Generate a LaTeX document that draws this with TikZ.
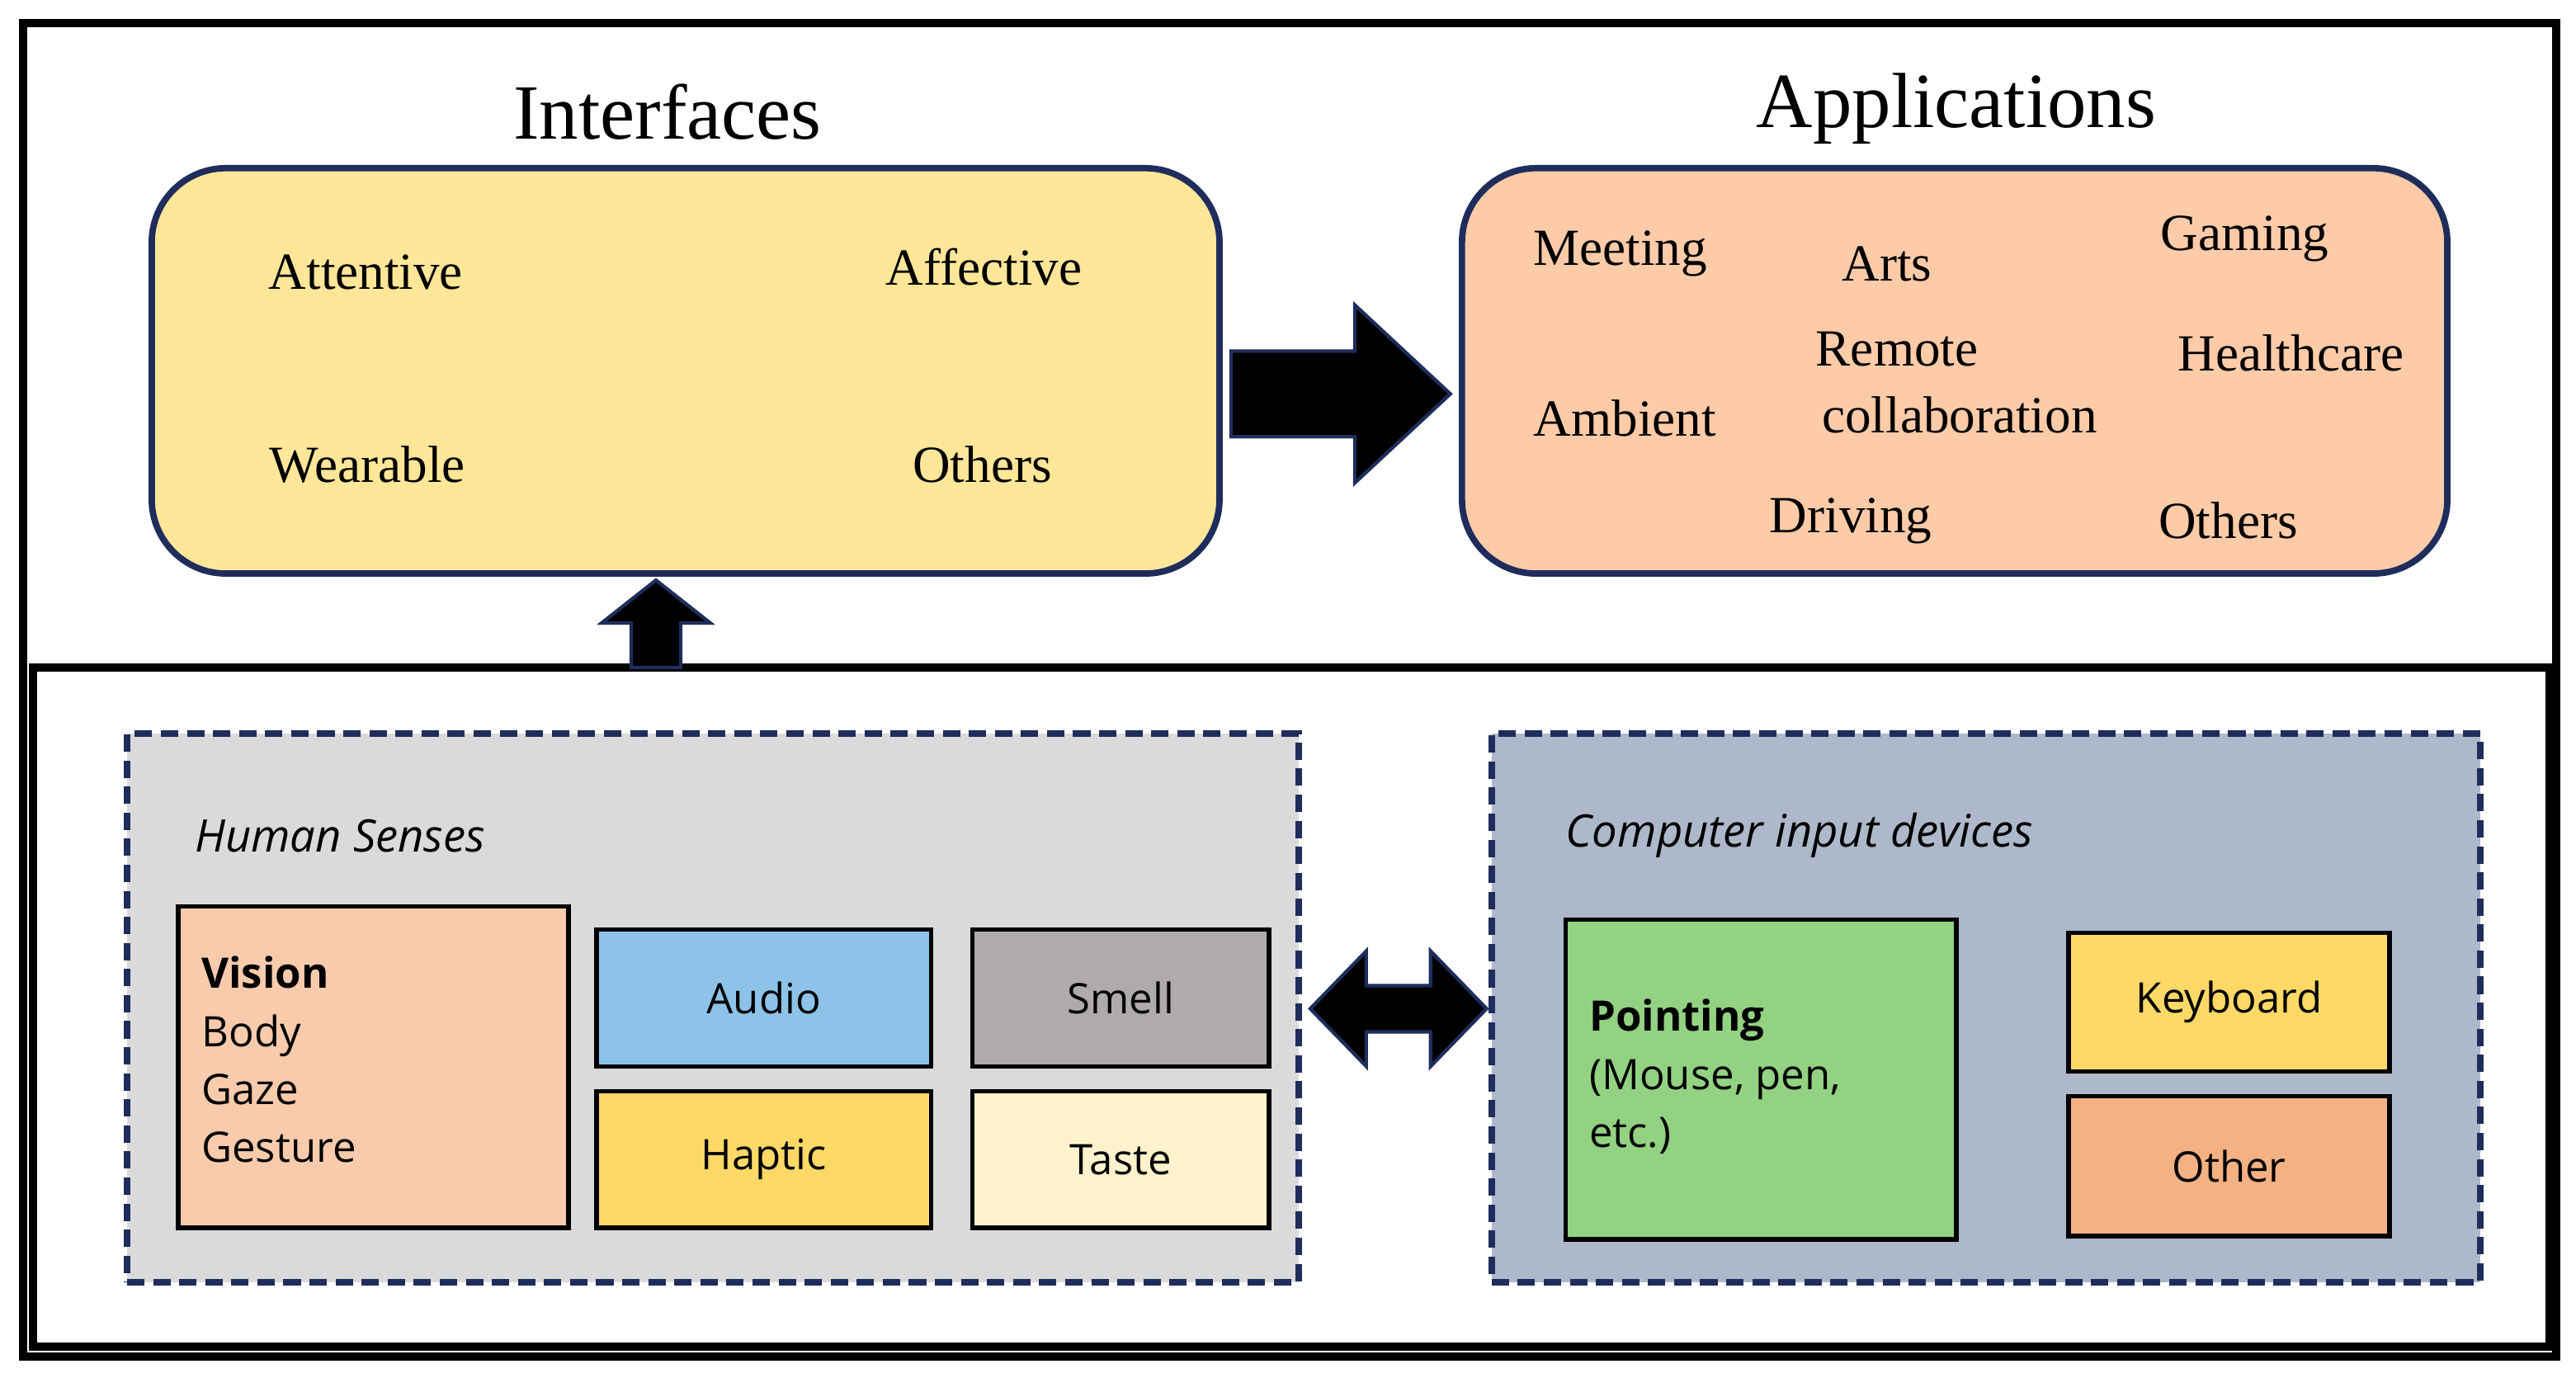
\documentclass[tikz,border=0pt]{standalone}
\usepackage{fontspec}
\setmainfont{Liberation Serif}
\newfontfamily\osans{Open Sans}
\definecolor{navy}{HTML}{1F2D5C}
\definecolor{yel}{HTML}{FFE699}
\definecolor{ora}{HTML}{FDCBA8}
\definecolor{hsg}{HTML}{DADADA}
\definecolor{cig}{HTML}{ADB9CA}
\definecolor{vis}{HTML}{F8CBAD}
\definecolor{aud}{HTML}{8DC3E8}
\definecolor{sme}{HTML}{AFABAB}
\definecolor{hap}{HTML}{FFD966}
\definecolor{tas}{HTML}{FFF2CC}
\definecolor{poi}{HTML}{92D282}
\definecolor{oth}{HTML}{F4B183}
\begin{document}
\begin{tikzpicture}[x=0.02cm,y=-0.02cm,
  title/.style={font=\fontsize{27}{30}\selectfont},
  item/.style={font=\fontsize{18}{21}\selectfont},
  sitem/.style={font=\osans\fontsize{14.5}{20}\selectfont},
  big/.style={draw=navy,line width=2.2pt,rounded corners=0.9cm},
  group/.style={draw=navy,line width=2.2pt,dashed,dash pattern=on 6pt off 3pt},
  box/.style={draw=black,line width=1.6pt,sitem},
  arr/.style={fill=black,draw=navy,line width=1.2pt,line join=miter}]
\useasboundingbox (0,0) rectangle (1563,836);
\fill[white] (0,0) rectangle (1563,836);
\draw[line width=2.8pt] (14,14) rectangle (1551,823);
\draw[line width=2.8pt] (20,405) rectangle (1547,817);
% top
\node[title] (tI) at (405,68) {Interfaces};
\node[title] (tA) at (1187,66) {Applications};
\node[big,fill=yel,minimum width=12.96cm,minimum height=4.92cm] (I) at (416,225) {};
\node[big,fill=ora,minimum width=11.96cm,minimum height=4.92cm] (A) at (1186,225) {};
\node[item] (i1) at (222,165) {Attentive};
\node[item] (i2) at (597,162) {Affective};
\node[item] (i3) at (223,282) {Wearable};
\node[item] (i4) at (596,282) {Others};
\node[item] (a1) at (983,154) {Meeting};
\node[item] (a2) at (1145,160) {Arts};
\node[item] (a3) at (1362,145) {Gaming};
\node[item] (a4) at (1151,212) {Remote};
\node[item] (a5) at (1189,252) {collaboration};
\node[item] (a6) at (1390,214) {Healthcare};
\node[item] (a7) at (986,254) {Ambient};
\node[item] (a8) at (1123,316) {Driving};
\node[item] (a9) at (1352,316) {Others};
% big right arrow
\draw[arr] (747,213) -- (822,213) -- (822,185) -- (880,239) -- (822,293) -- (822,265) -- (747,265) -- cycle;
% up arrow
\draw[arr] (383,405) -- (383,378) -- (365,378) -- (398,352) -- (431,378) -- (413,378) -- (413,405) -- cycle;
% bottom groups
\node[group,fill=hsg,minimum width=14.22cm,minimum height=6.66cm] (HS) at (432.5,611.5) {};
\node[group,fill=cig,minimum width=12.0cm,minimum height=6.66cm] (CI) at (1205,611.5) {};
\node[sitem,font=\osans\itshape\fontsize{15.5}{20}\selectfont,anchor=west] (hst) at (112,507) {Human Senses};
\node[sitem,font=\osans\itshape\fontsize{15.5}{20}\selectfont,anchor=west] (cit) at (944,507) {Computer input devices};
\node[box,fill=vis,minimum width=4.74cm,minimum height=3.9cm] (V) at (226.5,647.5) {};
\node[sitem,anchor=north west,align=left,inner sep=0pt] (vt) at (122,580) {\textbf{Vision}\\Body\\Gaze\\Gesture};
\node[box,fill=aud,minimum width=4.06cm,minimum height=1.66cm] (au) at (463.5,605.5) {Audio};
\node[box,fill=sme,minimum width=3.6cm,minimum height=1.66cm] (sm) at (680,605.5) {Smell};
\node[box,fill=hap,minimum width=4.06cm,minimum height=1.66cm] (ha) at (463.5,703.5) {Haptic};
\node[box,fill=tas,minimum width=3.6cm,minimum height=1.66cm] (ta) at (680,703.5) {Taste};
\node[box,fill=poi,minimum width=4.74cm,minimum height=3.88cm] (P) at (1068.5,655) {};
\node[sitem,anchor=north west,align=left,inner sep=0pt] (pt) at (964,606) {\textbf{Pointing}\\(Mouse, pen,\\etc.)};
\node[box,fill=hap,minimum width=3.9cm,minimum height=1.68cm] (kb) at (1352.5,608) {Keyboard};
\node[box,fill=oth,minimum width=3.9cm,minimum height=1.7cm] (ot) at (1352.5,707.5) {Other};
% double arrow
\draw[arr] (795,612) -- (829,577) -- (829,598) -- (868,598) -- (868,577) -- (902,612) -- (868,647) -- (868,626) -- (829,626) -- (829,647) -- cycle;
\end{tikzpicture}
\end{document}
